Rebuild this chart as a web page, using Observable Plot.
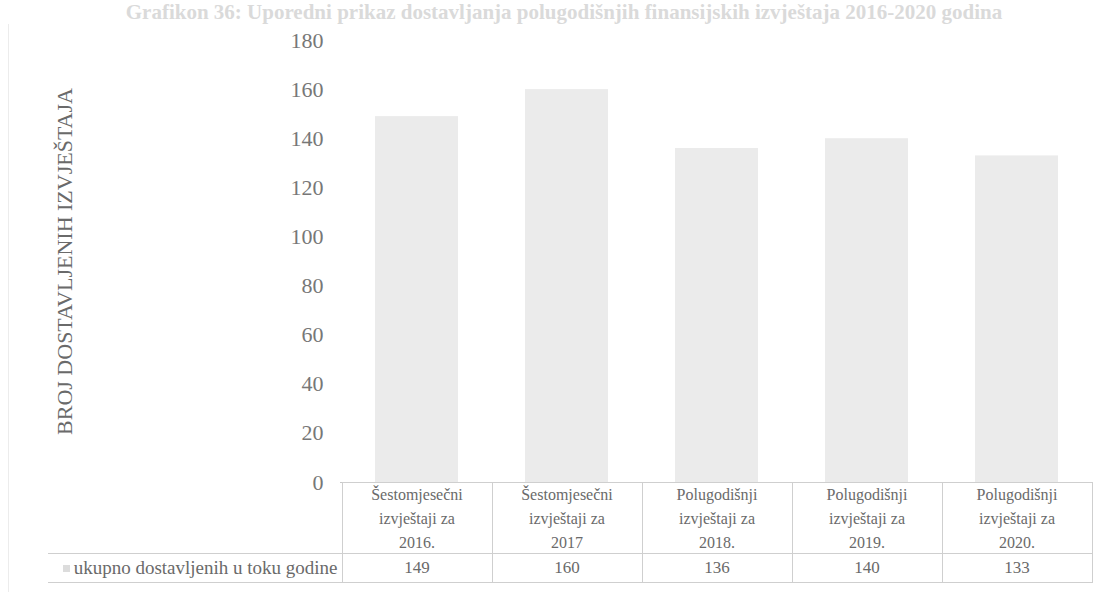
<!DOCTYPE html>
<html>
<head>
<meta charset="utf-8">
<script src="https://cdn.jsdelivr.net/npm/d3@7"></script>
<script src="https://cdn.jsdelivr.net/npm/@observablehq/plot@0.6"></script>
<style>
  html, body { margin: 0; padding: 0; background: #fff; }
  #wrap { position: relative; width: 1108px; height: 592px; overflow: hidden; font-family: "Liberation Serif", "DejaVu Serif", serif; }
  #title { position: absolute; left: 0; width: 1108px; top: 0px; line-height: 24px; text-align: center; font-size: 21px; font-weight: bold; color: #dadada; white-space: nowrap; padding-left: 20px; box-sizing: border-box; }
  #chart { position: absolute; left: 0; top: 0; }
  .cell { position: absolute; box-sizing: border-box; display: flex; align-items: center; justify-content: center; text-align: center; color: #6a6a6a; }
  .frame { position: absolute; background: #ececec; }
</style>
</head>
<body>
<div id="wrap">
  <div class="frame" style="left:8px; top:24px; width:1px; height:568px;"></div>
  <div id="title"></div>
  <div id="chart"></div>
</div>
<script>
const titleText = "Grafikon 36: Uporedni prikaz dostavljanja polugodišnjih finansijskih izvještaja 2016-2020 godina";
const categories = [
  "Šestomjesečni izvještaji za 2016.",
  "Šestomjesečni izvještaji za 2017.",
  "Polugodišnji izvještaji za 2018.",
  "Polugodišnji izvještaji za 2019.",
  "Polugodišnji izvještaji za 2020."
];
const categoryLines = [
  ["Šestomjesečni", "izvještaji za", "2016."],
  ["Šestomjesečni", "izvještaji za", "2017"],
  ["Polugodišnji", "izvještaji za", "2018."],
  ["Polugodišnji", "izvještaji za", "2019."],
  ["Polugodišnji", "izvještaji za", "2020."]
];
const values = [149, 160, 136, 140, 133];
const seriesName = "ukupno dostavljenih u toku godine";
const yTicks = [0, 20, 40, 60, 80, 100, 120, 140, 160, 180];
const yLabel = "BROJ DOSTAVLJENIH IZVJEŠTAJA";

const data = categories.map((c, i) => ({cat: c, value: values[i]}));
const barColor = "#ebebeb";

document.getElementById("title").textContent = titleText;

const plot = Plot.plot({
  width: 1108,
  height: 500,
  marginLeft: 340,
  marginRight: 16,
  marginTop: 40,
  marginBottom: 18,
  style: {fontFamily: '"Liberation Serif", serif', background: "transparent"},
  x: {domain: categories, paddingInner: 0.45, paddingOuter: 0.225, axis: null},
  y: {domain: [0, 180]},
  marks: [
    Plot.barY(data, {x: "cat", y: "value", fill: barColor}),
    Plot.axisY({
      ticks: yTicks, tickSize: 0, tickPadding: 17, fontSize: 22, color: "#777",
      label: yLabel, labelAnchor: "center", labelArrow: "none", labelOffset: 284
    }),
    Plot.ruleY([0], {stroke: "#c8c8c8"})
  ]
});
plot.querySelectorAll("g[aria-label='y-axis label']").forEach(n => { n.setAttribute("font-size", 22); n.setAttribute("fill", "#6a6a6a"); });
document.getElementById("chart").appendChild(plot);

// table under the chart, aligned to the band scale
const x = plot.scale("x");
const step = x.step, bw = x.bandwidth;
const wrap = document.getElementById("wrap");
const tTop = 482, tMid = 553, tBot = 582;
const lineColor = "#cfcfcf";
function addDiv(style, html, cls) {
  const d = document.createElement("div");
  d.className = cls || "";
  Object.assign(d.style, style);
  if (html != null) d.innerHTML = html;
  wrap.appendChild(d);
  return d;
}
categories.forEach((c, i) => {
  const left = x.apply(c) - (step - bw) / 2;
  addDiv({left: left + "px", top: tTop + "px", width: (step + 1) + "px", height: (tMid - tTop + 1) + "px",
          border: "1px solid " + lineColor, fontSize: "16px", lineHeight: "24px", paddingTop: "2px"},
         categoryLines[i].join("<br>"), "cell");
  addDiv({left: left + "px", top: tMid + "px", width: (step + 1) + "px", height: (tBot - tMid + 1) + "px",
          border: "1px solid " + lineColor, fontSize: "17px"},
         String(values[i]), "cell");
});
const firstLeft = x.apply(categories[0]) - (step - bw) / 2;
addDiv({left: "48px", top: tMid + "px", width: (firstLeft - 48 + 1) + "px", height: (tBot - tMid + 1) + "px",
        borderTop: "1px solid " + lineColor, borderBottom: "1px solid " + lineColor, fontSize: "19px", justifyContent: "flex-end", paddingRight: "5px"},
       `<span style="display:inline-block;width:7px;height:7px;background:#dcdcdc;margin-right:4px;"></span>${seriesName}`, "cell");
</script>
</body>
</html>
